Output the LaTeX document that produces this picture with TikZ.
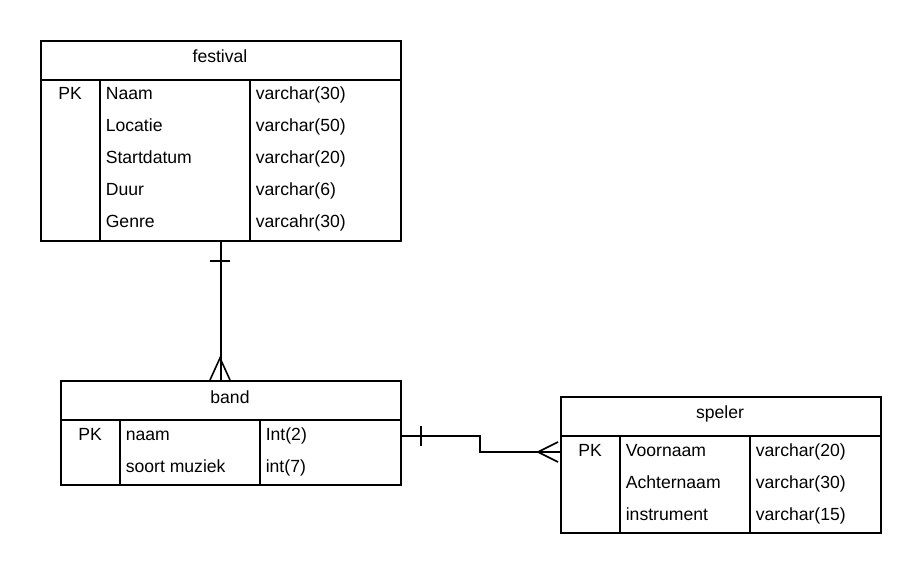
\documentclass[tikz,border=0pt]{standalone}
\usepackage{fontspec}
\setmainfont{Liberation Sans}
\begin{document}
\begin{tikzpicture}[x=1pt,y=-1pt, line width=1.6pt,
  tbl/.style={draw, rectangle, inner sep=0pt, anchor=north west},
  lbl/.style={inner sep=0pt, anchor=base west, font=\fontsize{17.6}{20}\selectfont},
  ctr/.style={inner sep=0pt, anchor=base, font=\fontsize{17.6}{20}\selectfont}]
\useasboundingbox (0,0) rectangle (920,572);
% festival
\node[tbl, minimum width=360pt, minimum height=200pt] (festival) at (40,40) {};
\draw (40,80) -- (400,80);
\draw (100,80) -- (100,240);
\draw (250,80) -- (250,240);
\node[ctr] (ft) at (220,63) {festival};
\node[ctr] (fpk) at (70,100) {PK};
\node[lbl] (f1) at (105,100) {Naam};
\node[lbl] (f2) at (105,132) {Locatie};
\node[lbl] (f3) at (105,164) {Startdatum};
\node[lbl] (f4) at (105,195) {Duur};
\node[lbl] (f5) at (105,227) {Genre};
\node[lbl] (g1) at (255,100) {varchar(30)};
\node[lbl] (g2) at (255,132) {varchar(50)};
\node[lbl] (g3) at (255,164) {varchar(20)};
\node[lbl] (g4) at (255,195) {varchar(6)};
\node[lbl] (g5) at (255,227) {varcahr(30)};
% band
\node[tbl, minimum width=340pt, minimum height=104pt] (band) at (60,380) {};
\draw (60,420) -- (400,420);
\draw (120,420) -- (120,484);
\draw (260,420) -- (260,484);
\node[ctr] (bt) at (230,403) {band};
\node[ctr] (bpk) at (90,440) {PK};
\node[lbl] (b1) at (125,440) {naam};
\node[lbl] (b2) at (125,472) {soort muziek};
\node[lbl] (c1) at (265,440) {Int(2)};
\node[lbl] (c2) at (265,472) {int(7)};
% speler
\node[tbl, minimum width=320pt, minimum height=136pt] (speler) at (560,396) {};
\draw (560,436) -- (880,436);
\draw (620,436) -- (620,532);
\draw (750,436) -- (750,532);
\node[ctr] (st) at (720,418) {speler};
\node[ctr] (spk) at (590,456) {PK};
\node[lbl] (s1) at (625,456) {Voornaam};
\node[lbl] (s2) at (625,488) {Achternaam};
\node[lbl] (s3) at (625,520) {instrument};
\node[lbl] (t1) at (755,456) {varchar(20)};
\node[lbl] (t2) at (755,488) {varchar(30)};
\node[lbl] (t3) at (755,520) {varchar(15)};
% connector festival - band
\coordinate (fb) at (festival.south |- band.north);
\draw (festival.south) -- (fb);
\draw (210,261) -- (230,261);
\draw (210,380) -- (220,358) -- (230,380);
% connector band - speler
\coordinate (bs1) at (400,436);
\coordinate (bs2) at (560,452);
\draw (bs1) -- (480,436) -- (480,452) -- (bs2);
\draw (421,426) -- (421,446);
\draw (558,442) -- (538,452) -- (558,462);
\end{tikzpicture}
\end{document}
